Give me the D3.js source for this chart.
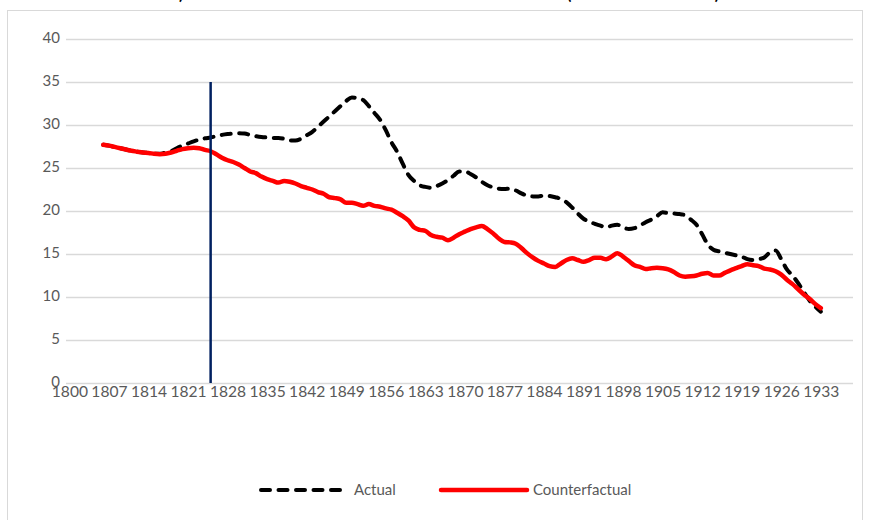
<!DOCTYPE html>
<html>
<head>
<meta charset="utf-8">
<script src="https://cdn.jsdelivr.net/npm/d3@7"></script>
<style>
  body { margin: 0; background: #fff; }
  svg text { font-family: Lato, "Open Sans", sans-serif; }
</style>
</head>
<body>
<div class="chart"></div>
<script>
// Chart data
let years = d3.range(1806, 1934);
let actual = [
  27.7, 27.6, 27.45, 27.3, 27.15, 27.0, 26.9, 26.8, 26.75, 26.65,
  26.65, 26.8, 26.95, 27.3, 27.6, 27.85, 28.1, 28.3, 28.45, 28.55,
  28.7, 28.85, 28.95, 29.0, 29.05, 29.0, 28.85, 28.7, 28.6, 28.55,
  28.5, 28.5, 28.4, 28.2, 28.2, 28.4, 28.8, 29.2, 29.8, 30.4,
  31.0, 31.6, 32.2, 32.8, 33.2, 33.1, 32.9, 32.2, 31.4, 30.6,
  29.4, 28.0, 26.9, 25.5, 24.2, 23.5, 23.0, 22.8, 22.7, 22.9,
  23.2, 23.6, 24.1, 24.6, 24.6, 24.3, 23.9, 23.4, 23.0, 22.75,
  22.6, 22.55, 22.6, 22.4, 22.05, 21.8, 21.7, 21.7, 21.8, 21.75,
  21.6, 21.4, 21.0, 20.4, 19.7, 19.1, 18.8, 18.5, 18.3, 18.1,
  18.3, 18.4, 18.1, 17.9, 18.0, 18.3, 18.7, 19.0, 19.4, 19.85,
  19.75, 19.7, 19.65, 19.5, 19.0, 18.4, 17.3, 16.1, 15.5, 15.3,
  15.15, 15.0, 14.85, 14.7, 14.4, 14.3, 14.4, 14.6, 15.2, 15.4,
  14.4, 13.2, 12.5, 11.6, 10.6, 9.6, 8.9, 8.3
];
let counterfactual = [
  27.7, 27.6, 27.45, 27.3, 27.15, 27.0, 26.9, 26.8, 26.75, 26.65,
  26.6, 26.65, 26.8, 27.0, 27.2, 27.3, 27.35, 27.3, 27.1, 26.95,
  26.6, 26.2, 25.9, 25.7, 25.4, 25.0, 24.6, 24.4, 24.0, 23.7,
  23.5, 23.3, 23.5, 23.4, 23.2, 22.9, 22.7, 22.5, 22.2, 22.0,
  21.6, 21.5, 21.35, 20.95, 20.95, 20.8, 20.6, 20.8, 20.6, 20.5,
  20.3, 20.15, 19.8, 19.4, 18.9, 18.1, 17.8, 17.7, 17.2, 17.0,
  16.9, 16.6, 16.9, 17.3, 17.6, 17.9, 18.1, 18.25, 17.9, 17.4,
  16.8, 16.4, 16.35, 16.2, 15.7, 15.1, 14.6, 14.2, 13.9, 13.6,
  13.5, 13.9, 14.3, 14.5, 14.3, 14.1, 14.3, 14.55, 14.55, 14.4,
  14.7, 15.1, 14.7, 14.2, 13.7, 13.5, 13.25, 13.35, 13.4, 13.35,
  13.2, 12.9, 12.5, 12.35, 12.4, 12.5, 12.7, 12.8, 12.5, 12.5,
  12.8, 13.1, 13.35, 13.6, 13.8, 13.7, 13.6, 13.3, 13.2, 13.0,
  12.6, 12.0, 11.5, 10.9, 10.3, 9.8, 9.2, 8.7
];
let tickYears = [1800, 1807, 1814, 1821, 1828, 1835, 1842, 1849, 1856, 1863,
  1870, 1877, 1884, 1891, 1898, 1905, 1912, 1919, 1926, 1933];
let yTicks = [0, 5, 10, 15, 20, 25, 30, 35, 40];
let markerYear = 1825;
let markerRange = [0, 35];
let seriesNames = ["Actual", "Counterfactual"];
let titleParts = ["1) Death rate: actual and counterfactual", "(in thousands)"];

// Layout
let width = 871;
let height = 520;
let plotLeft = 66, plotRight = 853, plotTop = 39, plotBottom = 383;
let labelColor = "#595959";
let gridColor = "#d9d9d9";

let svg = d3
  .select(".chart")
  .append("svg")
  .attr("width", width)
  .attr("height", height);

// Chart area border
svg
  .append("rect")
  .attr("x", 7.5)
  .attr("y", 10.5)
  .attr("width", 855)
  .attr("height", 530)
  .attr("fill", "#fff")
  .attr("stroke", gridColor);

// Title (cut off by the top of the picture, only its lowest part shows)
let title = svg
  .append("text")
  .attr("y", -1)
  .attr("font-size", 21)
  .attr("fill", "#000");
title
  .append("tspan")
  .attr("x", 166)
  .attr("textLength", 385)
  .attr("lengthAdjust", "spacing")
  .text(titleParts[0]);
title
  .append("tspan")
  .attr("x", 566)
  .attr("textLength", 154)
  .attr("lengthAdjust", "spacing")
  .text(titleParts[1]);

// Scales
let x = d3.scaleLinear().domain([1799.4, 1938.7]).range([plotLeft, plotRight]);
let y = d3.scaleLinear().domain([0, 40]).range([plotBottom, plotTop]);

// Gridlines
svg
  .append("g")
  .selectAll("line")
  .data(yTicks)
  .enter()
  .append("line")
  .attr("x1", plotLeft)
  .attr("x2", plotRight)
  .attr("y1", (d) => Math.round(y(d)) + 0.5)
  .attr("y2", (d) => Math.round(y(d)) + 0.5)
  .attr("stroke", gridColor)
  .attr("stroke-width", 1.3);

// Y axis labels
let yAxis = svg
  .append("g")
  .attr("transform", `translate(${plotLeft - 6},-1.5)`)
  .call(d3.axisLeft(y).tickValues(yTicks).tickSize(0).tickPadding(0));
yAxis.select(".domain").remove();
yAxis
  .selectAll("text")
  .attr("font-size", 15)
  .attr("fill", labelColor)
  .attr("font-family", "Lato, sans-serif");

// X axis labels
let xAxis = svg
  .append("g")
  .attr("transform", `translate(0,${plotBottom})`)
  .call(
    d3.axisBottom(x).tickValues(tickYears).tickFormat(d3.format("d")).tickSize(0).tickPadding(2.5)
  );
xAxis.select(".domain").remove();
xAxis
  .selectAll("text")
  .attr("font-size", 15.6)
  .attr("fill", labelColor)
  .attr("font-family", "Lato, sans-serif");

// Lines
let line = d3
  .line()
  .x((d, i) => x(years[i]))
  .y((d) => y(d))
  .curve(d3.curveMonotoneX);

svg
  .append("path")
  .datum(actual)
  .attr("d", line)
  .attr("fill", "none")
  .attr("stroke", "#000")
  .attr("stroke-width", 4)
  .attr("stroke-linecap", "round")
  .attr("stroke-dasharray", "9,8.5");

svg
  .append("path")
  .datum(counterfactual)
  .attr("d", line)
  .attr("fill", "none")
  .attr("stroke", "#ff0000")
  .attr("stroke-width", 4.5)
  .attr("stroke-linejoin", "round")
  .attr("stroke-linecap", "round");

// Vertical marker
svg
  .append("line")
  .attr("x1", x(markerYear))
  .attr("x2", x(markerYear))
  .attr("y1", y(markerRange[0]))
  .attr("y2", y(markerRange[1]))
  .attr("stroke", "#002060")
  .attr("stroke-width", 2.5);

// Legend
let legend = svg.append("g").attr("transform", "translate(0,490)");
let legendItems = [
  { name: seriesNames[0], x1: 261, x2: 342, dash: "9,8.5", color: "#000", w: 4 },
  { name: seriesNames[1], x1: 441, x2: 527, dash: null, color: "#ff0000", w: 4.5 }
];
legendItems.forEach(function (d) {
  legend
    .append("line")
    .attr("x1", d.x1)
    .attr("x2", d.x2)
    .attr("stroke", d.color)
    .attr("stroke-width", d.w)
    .attr("stroke-linecap", "round")
    .attr("stroke-dasharray", d.dash);
  legend
    .append("text")
    .attr("x", d.x2 + (d.dash ? 12 : 6))
    .attr("y", 5)
    .attr("font-size", 15)
    .attr("fill", labelColor)
    .text(d.name);
});
</script>
</body>
</html>
